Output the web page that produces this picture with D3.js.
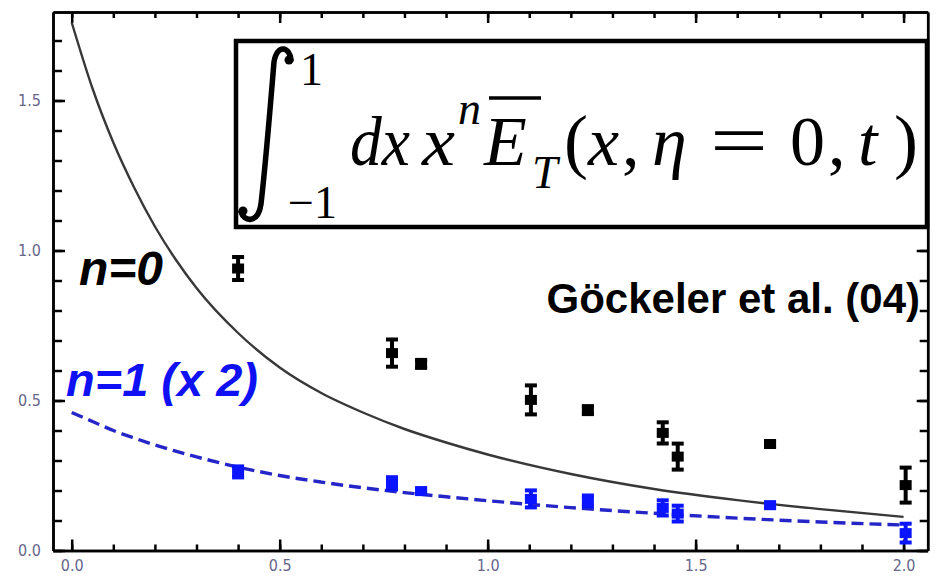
<!DOCTYPE html>
<html>
<head>
<meta charset="utf-8">
<script src="https://cdn.jsdelivr.net/npm/d3@7"></script>
<style>
  body { margin: 0; background: #fff; }
  .tick text { font-family: "Liberation Sans Narrow", "DejaVu Sans Condensed", sans-serif; font-size: 16px; fill: #66668a; }
</style>
</head>
<body>
<script>
// lattice points, n=0 (black)
var tN0   = [0.400, 0.770, 0.840, 1.104, 1.241, 1.421, 1.457, 1.679, 2.005];
var valN0 = [0.940, 0.658, 0.622, 0.502, 0.468, 0.392, 0.313, 0.355, 0.218];
var errN0 = [0.040, 0.047, 0.015, 0.050, 0.015, 0.037, 0.045, 0.010, 0.060];

// lattice points, n=1 (x 2) (blue)
var tN1   = [0.400, 0.770, 0.840, 1.104, 1.241, 1.421, 1.457, 1.679, 2.005];
var valN1 = [0.262, 0.224, 0.198, 0.172, 0.165, 0.142, 0.123, 0.151, 0.058];
var errN1 = [0.020, 0.022, 0.010, 0.030, 0.020, 0.027, 0.028, 0.010, 0.033];

// model curves
var tCurve  = [0, 0.05, 0.1, 0.15, 0.2, 0.25, 0.3, 0.4, 0.5, 0.6, 0.7, 0.8, 0.9, 1.0, 1.2, 1.4, 1.6, 1.8, 2.0];
var curveN0 = [1.76, 1.54, 1.36, 1.21, 1.08, 0.97, 0.875, 0.725, 0.61, 0.525, 0.46, 0.405, 0.36, 0.32, 0.255, 0.205, 0.168, 0.138, 0.112];
var curveN1 = [0.46, 0.43, 0.40, 0.375, 0.352, 0.331, 0.312, 0.278, 0.25, 0.228, 0.209, 0.193, 0.179, 0.166, 0.143, 0.124, 0.108, 0.095, 0.085];

var xMajor = [0, 0.5, 1.0, 1.5, 2.0];
var yMajor = [0, 0.5, 1.0, 1.5];
var xMinor = d3.range(0, 2.05, 0.1);
var yMinor = d3.range(0, 1.75, 0.1);

var W = 941, H = 579;
var svg = d3.select("body").append("svg").attr("width", W).attr("height", H);
svg.append("rect").attr("width", W).attr("height", H).attr("fill", "#fff");

var x = d3.scaleLinear().domain([-0.045, 2.058]).range([53, 927.7]);
var y = d3.scaleLinear().domain([0, 1.795]).range([550.5, 12]);
var X0 = x.range()[0], X1 = x.range()[1], Y0 = y.range()[0], Y1 = y.range()[1];

svg.append("clipPath").attr("id", "plot")
  .append("rect").attr("x", X0).attr("y", Y1).attr("width", X1 - X0).attr("height", Y0 - Y1);

// frame axes, ticks pointing inward
function styleAxis(g) {
  g.selectAll("path").attr("stroke", "#000").attr("stroke-width", 2.5);
  g.selectAll("line").attr("stroke", "#000").attr("stroke-width", 2.5);
}
var fmt = d3.format(".1f");

svg.append("g").attr("transform", "translate(0," + Y0 + ")")
  .call(d3.axisBottom(x).tickValues(xMinor).tickSize(-6).tickSizeOuter(0).tickFormat(""))
  .call(styleAxis);
svg.append("g").attr("transform", "translate(0," + Y0 + ")")
  .call(d3.axisBottom(x).tickValues(xMajor).tickSize(-11).tickSizeOuter(0).tickPadding(9).tickFormat(fmt))
  .call(styleAxis);
svg.append("g").attr("transform", "translate(0," + Y1 + ")")
  .call(d3.axisTop(x).tickValues(xMinor).tickSize(-6).tickSizeOuter(0).tickFormat(""))
  .call(styleAxis);
svg.append("g").attr("transform", "translate(0," + Y1 + ")")
  .call(d3.axisTop(x).tickValues(xMajor).tickSize(-11).tickSizeOuter(0).tickFormat(""))
  .call(styleAxis);
svg.append("g").attr("transform", "translate(" + X0 + ",0)")
  .call(d3.axisLeft(y).tickValues(yMinor).tickSize(-9).tickSizeOuter(0).tickFormat(""))
  .call(styleAxis);
svg.append("g").attr("transform", "translate(" + X0 + ",0)")
  .call(d3.axisLeft(y).tickValues(yMajor).tickSize(-12).tickSizeOuter(0).tickPadding(12).tickFormat(fmt))
  .call(styleAxis);
svg.append("g").attr("transform", "translate(" + X1 + ",0)")
  .call(d3.axisRight(y).tickValues(yMinor).tickSize(-8).tickSizeOuter(0).tickFormat(""))
  .call(styleAxis);
svg.append("g").attr("transform", "translate(" + X1 + ",0)")
  .call(d3.axisRight(y).tickValues(yMajor).tickSize(-11).tickSizeOuter(0).tickFormat(""))
  .call(styleAxis);

// curves
var plot = svg.append("g").attr("clip-path", "url(#plot)");
var line = d3.line().curve(d3.curveMonotoneX);

plot.append("path")
  .attr("d", line(tCurve.map(function (t, i) { return [x(t), y(curveN0[i])]; })))
  .attr("fill", "none").attr("stroke", "#383838").attr("stroke-width", 2.4);

plot.append("path")
  .attr("d", line(tCurve.map(function (t, i) { return [x(t), y(curveN1[i])]; })))
  .attr("fill", "none").attr("stroke", "#2626c8").attr("stroke-width", 3.4)
  .attr("stroke-dasharray", "12,6");

// error bar points
function drawPoints(ts, vals, errs, color) {
  var g = plot.append("g").attr("fill", color).attr("stroke", color);
  ts.forEach(function (t, i) {
    var cx = x(t), top = y(vals[i] + errs[i]), bot = y(vals[i] - errs[i]);
    g.append("line").attr("x1", cx).attr("x2", cx).attr("y1", top).attr("y2", bot)
      .attr("stroke-width", 4);
    g.append("rect").attr("x", cx - 6).attr("y", top - 1.5).attr("width", 12).attr("height", 4).attr("stroke", "none");
    g.append("rect").attr("x", cx - 6).attr("y", bot - 2.5).attr("width", 12).attr("height", 4).attr("stroke", "none");
    g.append("rect").attr("x", cx - 6).attr("y", y(vals[i]) - 5).attr("width", 12).attr("height", 10).attr("stroke", "none");
  });
}
drawPoints(tN0, valN0, errN0, "#000");
drawPoints(tN1, valN1, errN1, "#0a14ff");

// labels
var sans = "Liberation Sans, Arial, sans-serif";
svg.append("text").attr("x", 79).attr("y", 285)
  .attr("font-family", sans).attr("font-weight", "bold").attr("font-style", "italic")
  .attr("font-size", 48).attr("fill", "#000").text("n=0");
svg.append("text").attr("x", 66).attr("y", 396)
  .attr("font-family", sans).attr("font-weight", "bold").attr("font-style", "italic")
  .attr("font-size", 47).attr("fill", "#1010f5").text("n=1 (x 2)");
svg.append("text").attr("x", 920).attr("y", 313).attr("text-anchor", "end")
  .attr("font-family", sans).attr("font-weight", "bold")
  .attr("font-size", 42).attr("fill", "#000").text("Göckeler et al. (04)");

// formula box
var box = svg.append("g");
box.append("rect").attr("x", 236).attr("y", 41).attr("width", 691).attr("height", 186)
  .attr("fill", "#fff").attr("stroke", "#000").attr("stroke-width", 4.5);

// integral sign
box.append("path")
  .attr("d", "M291,60 C290,47 277,43 274,62 C270,110 266,160 261,204 C258,224 244,222 241,212")
  .attr("fill", "none").attr("stroke", "#000").attr("stroke-width", 5.5).attr("stroke-linecap", "round");
box.append("circle").attr("cx", 289).attr("cy", 60).attr("r", 4.5);
box.append("circle").attr("cx", 243).attr("cy", 211).attr("r", 4.5);

var serif = "Liberation Serif, DejaVu Serif, serif";
function piece(txt, px, py, size, italic, len) {
  var t = box.append("text").attr("x", px).attr("y", py)
    .attr("font-family", serif).attr("font-size", size)
    .attr("font-style", italic ? "italic" : "normal").attr("fill", "#000").text(txt);
  if (len) t.attr("textLength", len).attr("lengthAdjust", "spacingAndGlyphs");
  return t;
}
piece("1", 300, 85, 46, false);
piece("\u22121", 288, 218, 46, false);
piece("dx", 350, 165, 70, true, 60);
piece("x", 422, 165, 70, true, 33);
piece("n", 458, 124, 46, true);
piece("E", 484, 165, 70, true);
box.append("line").attr("x1", 489).attr("x2", 541).attr("y1", 98).attr("y2", 98)
  .attr("stroke", "#000").attr("stroke-width", 3.5);
piece("T", 532, 188, 46, true);
piece("(", 564, 165, 72, false);
piece("x", 588, 165, 70, true);
piece(",", 622, 165, 70, false);
piece("\u03B7", 652, 165, 70, true);
piece("=", 710, 165, 74, false, 58);
piece("0", 790, 165, 70, false);
piece(",", 828, 165, 70, false);
piece("t", 858, 165, 70, true);
piece(")", 894, 165, 72, false);
</script>
</body>
</html>
